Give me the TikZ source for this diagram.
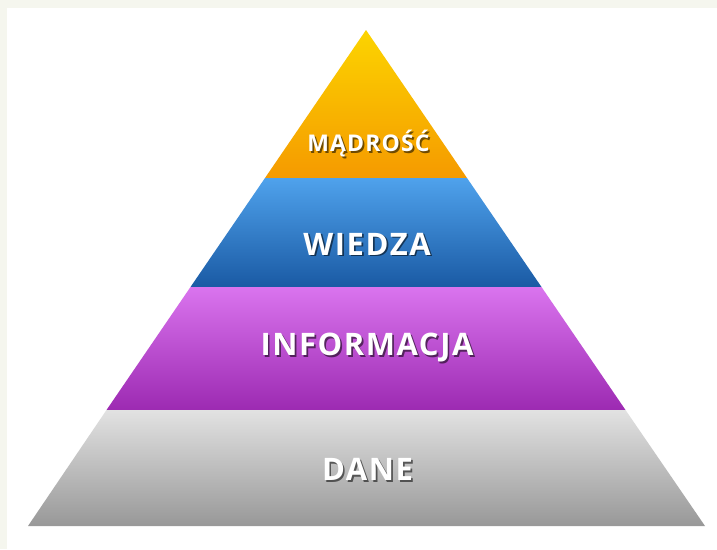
\documentclass[tikz,border=0pt]{standalone}
\usepackage{fontspec}
\setmainfont{Open Sans}[LetterSpace=5]
\definecolor{cream}{HTML}{F5F6EE}
\definecolor{orT}{HTML}{FCD400}
\definecolor{orB}{HTML}{F59A00}
\definecolor{blT}{HTML}{4FA2EC}
\definecolor{blB}{HTML}{1A5AA4}
\definecolor{puT}{HTML}{DA74EE}
\definecolor{puB}{HTML}{9C2AB2}
\definecolor{grT}{HTML}{E2E2E2}
\definecolor{grB}{HTML}{989898}
\tikzset{
  lbl/.style={text=white, font=\bfseries\fontsize{#1}{#1}\selectfont, inner sep=0pt, anchor=center},
  shd/.style={text=black, opacity=0.55, font=\bfseries\fontsize{#1}{#1}\selectfont, inner sep=0pt, anchor=center},
}
\begin{document}
\begin{tikzpicture}[x=1pt,y=-1pt]
\useasboundingbox (0,0) rectangle (717,549);
\fill[cream] (0,0) rectangle (717,549);
\fill[white] (7,8) rectangle (717,549);
% pyramid: apex (366,30), base y=526 from 28 to 705
\shade[top color=orT, bottom color=orB] (366,30) -- (467,178) -- (265,178) -- cycle;
\shade[top color=blT, bottom color=blB] (265,178) -- (467,178) -- (541.5,287) -- (190.5,287) -- cycle;
\shade[top color=puT, bottom color=puB] (190.5,287) -- (541.5,287) -- (625.5,410) -- (106.5,410) -- cycle;
\shade[top color=grT, bottom color=grB] (106.5,410) -- (625.5,410) -- (705,526) -- (28,526) -- cycle;
% labels
\node[shd=23] (madS) at (370.2,145.8) {MĄDROŚĆ};
\node[lbl=23] (mad) at (368.5,144) {MĄDROŚĆ};
\node[shd=31] (wieS) at (368.7,245.8) {WIEDZA};
\node[lbl=31] (wie) at (367,244) {WIEDZA};
\node[shd=31] (infS) at (368.7,349.8) {INFORMACJA};
\node[lbl=31] (inf) at (367,348) {INFORMACJA};
\node[shd=31] (danS) at (369.2,471.3) {DANE};
\node[lbl=31] (dan) at (367.5,469.5) {DANE};
\end{tikzpicture}
\end{document}
